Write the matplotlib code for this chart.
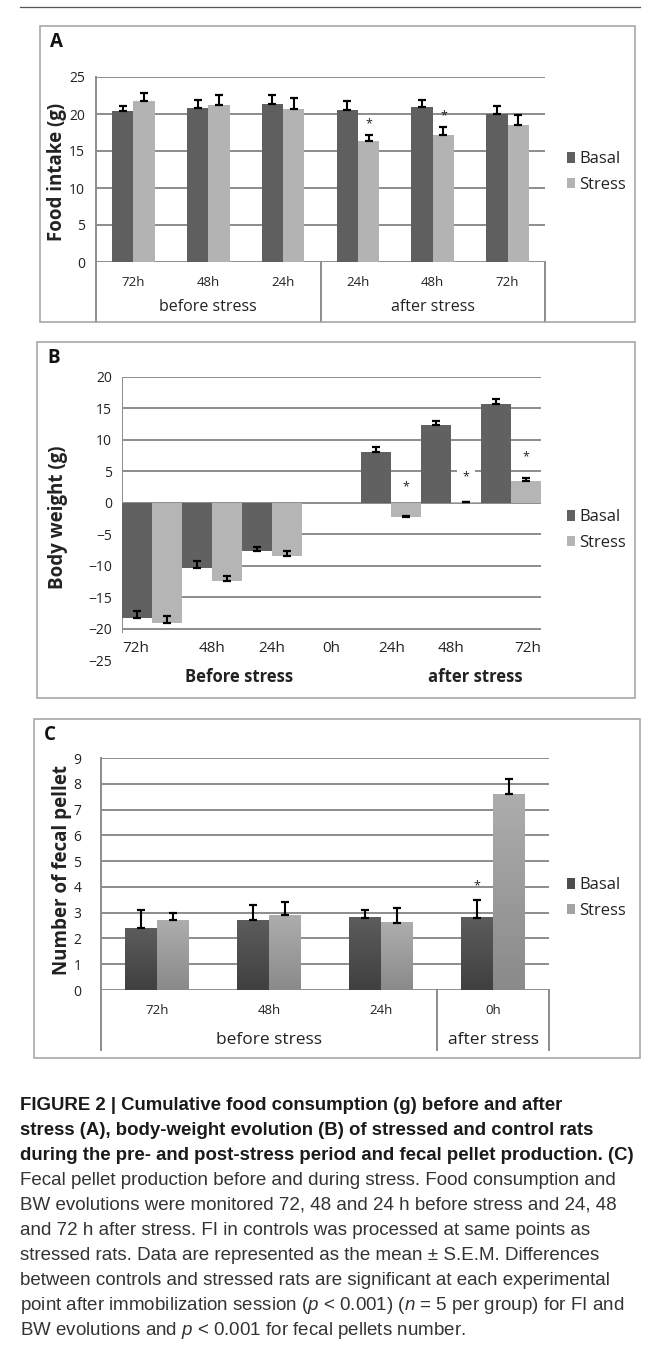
import matplotlib
matplotlib.use("Agg")
import matplotlib.pyplot as plt
import matplotlib.transforms as mtransforms
import numpy as np
from matplotlib.colors import LinearSegmentedColormap
from matplotlib.lines import Line2D
from matplotlib.patches import Patch, Rectangle

# ---- data ------------------------------------------------------------------
periods_a = ["72h", "48h", "24h", "24h", "48h", "72h"]
groups_a = ["before stress", "after stress"]
basal_a = [20.45, 20.8, 21.3, 20.5, 20.9, 20.0]
basal_a_err = [0.65, 1.1, 1.3, 1.25, 1.0, 1.1]
stress_a = [21.7, 21.15, 20.7, 16.3, 17.2, 18.45]
stress_a_err = [1.2, 1.45, 1.5, 0.8, 1.0, 1.45]
star_a = [np.nan, np.nan, np.nan, 18.7, 19.7, np.nan]

periods_b = ["72h", "48h", "24h", "0h", "24h", "48h", "72h"]
groups_b = ["Before stress", "after stress"]
basal_b = [-18.3, -10.3, -7.7, np.nan, 8.1, 12.3, 15.7]
basal_b_err = [1.1, 1.0, 0.65, np.nan, 0.7, 0.7, 0.75]
stress_b = [-19.1, -12.4, -8.5, np.nan, -2.2, 0.15, 3.4]
stress_b_err = [1.1, 0.8, 0.9, np.nan, 0.05, 0.05, 0.5]
star_b = [np.nan, np.nan, np.nan, np.nan, 2.5, 4.1, 7.3]

periods_c = ["72h", "48h", "24h", "0h"]
groups_c = ["before stress", "after stress"]
basal_c = [2.4, 2.7, 2.8, 2.8]
basal_c_err = [0.7, 0.6, 0.3, 0.7]
stress_c = [2.7, 2.9, 2.6, 7.6]
stress_c_err = [0.3, 0.5, 0.6, 0.6]
star_c = [np.nan, np.nan, np.nan, 4.05]

caption_bold = [
    "FIGURE 2 | Cumulative food consumption (g) before and after",
    "stress (A), body-weight evolution (B) of stressed and control rats",
    "during the pre- and post-stress period and fecal pellet production. (C)",
]
caption_text = [
    "Fecal pellet production before and during stress. Food consumption and",
    "BW evolutions were monitored 72, 48 and 24 h before stress and 24, 48",
    "and 72 h after stress. FI in controls was processed at same points as",
    "stressed rats. Data are represented as the mean \u00b1 S.E.M. Differences",
    "between controls and stressed rats are significant at each experimental",
    "point after immobilization session ($p$ < 0.001) ($n$ = 5 per group) for FI and",
    "BW evolutions and $p$ < 0.001 for fecal pellets number.",
]

# ---- layout (pixels) --------------------------------------------------------
W, H = 656, 1346
TXT = "#222222"
GRID = "#8c8c8c"
BOX = "#a8a8a8"
plt.rcParams["font.family"] = ["Open Sans", "DejaVu Sans"]
plt.rcParams["mathtext.fontset"] = "custom"
plt.rcParams["mathtext.it"] = "Liberation Sans:italic"
plt.rcParams["mathtext.rm"] = "Liberation Sans"

fig = plt.figure(figsize=(W / 100, H / 100), dpi=100)


def fx(x):
    return x / W


def fy(y):
    return 1 - y / H


def make_axes(left, top, right, bottom):
    ax = fig.add_axes([fx(left), fy(bottom), (right - left) / W, (bottom - top) / H])
    for s in ax.spines.values():
        s.set_visible(False)
    ax.set_xticks([])
    ax.tick_params(axis="y", length=0, labelsize=10, labelcolor=TXT)
    return ax


def panel_box(left, top, right, bottom, letter):
    fig.add_artist(Rectangle((fx(left), fy(bottom)), (right - left) / W, (bottom - top) / H,
                             transform=fig.transFigure, fill=False, ec=BOX, lw=1.2))
    fig.text(fx(left + 10), fy(top + 16), letter, fontsize=13.5, fontweight="bold",
             color="#111111", va="center", ha="left")


def blend(ax):
    return mtransforms.blended_transform_factory(ax.transData, fig.transFigure)


def vline(ax, x, y0px, y1px):
    ax.add_line(Line2D([x, x], [fy(y0px), fy(y1px)], transform=blend(ax), clip_on=False,
                       color=GRID, lw=1.4))


def xtext(ax, x, ypx, s, ha="center", **kw):
    ax.text(x, fy(ypx), s, transform=blend(ax), ha=ha, va="center", clip_on=False,
            color=TXT, **kw)


def gridlines(ax, ticks, x0, x1):
    for t in ticks:
        ax.plot([x0, x1], [t, t], color=GRID, lw=1.4, zorder=0.5, solid_capstyle="butt")


def add_legend(ax, c_basal, c_stress, ypx):
    handles = [Patch(fc=c_basal, ec="none", label="Basal"),
               Patch(fc=c_stress, ec="none", label="Stress")]
    ax.legend(handles=handles, loc="center left", bbox_to_anchor=(fx(567), fy(ypx)),
              bbox_transform=fig.transFigure, frameon=False, fontsize=12,
              handlelength=0.5, handleheight=0.55, handletextpad=0.25,
              labelspacing=0.55, borderpad=0, borderaxespad=0, labelcolor=TXT)


def errbars(ax, x, y, err):
    y = np.asarray(y, float)
    err = np.asarray(err, float)
    ax.errorbar(x, y, yerr=[np.zeros_like(err), err], fmt="none", ecolor="black",
                elinewidth=1.5, capsize=3, capthick=1.6, zorder=3)


# top rule
fig.add_artist(Line2D([fx(20), fx(640)], [fy(7), fy(7)], color="#555555", lw=0.9))

# ---- panel A ----------------------------------------------------------------
panel_box(40, 26, 635, 322, "A")
axA = make_axes(96, 77, 545, 262)
n = len(periods_a)
xa = np.arange(n)
w = 1 / 3.5
cA_b, cA_s = "#5f5f5f", "#b3b3b3"
axA.bar(xa - w / 2, basal_a, w, color=cA_b, zorder=2)
axA.bar(xa + w / 2, stress_a, w, color=cA_s, zorder=2)
errbars(axA, xa - w / 2, basal_a, basal_a_err)
errbars(axA, xa + w / 2, stress_a, stress_a_err)
for i, s in enumerate(star_a):
    if not np.isnan(s):
        axA.text(xa[i] + w / 2, s, "*", ha="center", va="center", fontsize=9, color=TXT)
axA.set_xlim(-0.5, n - 0.5)
axA.set_ylim(0, 25)
axA.set_yticks(range(0, 26, 5))
axA.tick_params(axis="y", pad=8)
gridlines(axA, range(0, 26, 5), -0.5, n - 0.5)
vline(axA, -0.5, 77, 322)
vline(axA, 2.5, 262, 322)
vline(axA, n - 0.5, 262, 322)
for i, p in enumerate(periods_a):
    xtext(axA, xa[i], 282, p, fontsize=9.5)
xtext(axA, 1, 307, groups_a[0], fontsize=11.5)
xtext(axA, 4, 307, groups_a[1], fontsize=11.5)
fig.text(fx(57), fy(172), "Food intake (g)", rotation=90, fontsize=13.5, fontweight="bold",
         ha="center", va="center", color=TXT)
add_legend(axA, cA_b, cA_s, 172)

# ---- panel B ----------------------------------------------------------------
panel_box(37, 342, 635, 698, "B")
axB = make_axes(122, 377, 541, 660)
n = len(periods_b)
xb = np.arange(n)
w = 0.5
cB_b, cB_s = "#616161", "#b5b5b5"
axB.bar(xb - w / 2, basal_b, w, color=cB_b, zorder=2)
axB.bar(xb + w / 2, stress_b, w, color=cB_s, zorder=2)
errbars(axB, xb - w / 2, basal_b, basal_b_err)
errbars(axB, xb + w / 2, stress_b, stress_b_err)
for i, s in enumerate(star_b):
    if not np.isnan(s):
        axB.text(xb[i] + w / 2, s, "*", ha="center", va="center", fontsize=9, color=TXT,
                 zorder=2.5, bbox=dict(fc="white", ec="none", pad=4))
axB.set_xlim(-0.5, n - 0.5)
axB.set_ylim(-25, 20)
axB.set_yticks(range(-25, 21, 5))
axB.tick_params(axis="y", pad=7)
gridlines(axB, range(-20, 21, 5), -0.5, n - 0.5)
axB.plot([-0.5, -0.5], [-20.6, 20], color=GRID, lw=1.4, zorder=0.6)
for i, p in enumerate(periods_b):
    if i == 0:
        xtext(axB, -0.5, 648, p, ha="left", fontsize=11)
    elif i == n - 1:
        xtext(axB, n - 0.5, 648, p, ha="right", fontsize=11)
    else:
        xtext(axB, xb[i], 648, p, fontsize=11)
xtext(axB, 1.45, 677, groups_b[0], fontsize=12, fontweight="bold")
xtext(axB, 5.4, 677, groups_b[1], fontsize=12, fontweight="bold")
fig.text(fx(58), fy(517), "Body weight (g)", rotation=90, fontsize=13.5, fontweight="bold",
         ha="center", va="center", color=TXT)
add_legend(axB, cB_b, cB_s, 530)

# ---- panel C ----------------------------------------------------------------
panel_box(34, 719, 640, 1058, "C")
axC = make_axes(101, 758, 549, 990)
n = len(periods_c)
xc = np.arange(n)
w = 1 / 3.5
cmap_b = LinearSegmentedColormap.from_list("basal", ["#404040", "#5c5c5c"])
cmap_s = LinearSegmentedColormap.from_list("stress", ["#8a8a8a", "#adadad"])
grad = np.linspace(0, 1, 64).reshape(-1, 1)
for vals, off, cm in ((basal_c, -w / 2, cmap_b), (stress_c, w / 2, cmap_s)):
    for xi, v in zip(xc + off, vals):
        axC.imshow(grad, extent=[xi - w / 2, xi + w / 2, 0, v], origin="lower",
                   aspect="auto", cmap=cm, zorder=2)
errbars(axC, xc - w / 2, basal_c, basal_c_err)
errbars(axC, xc + w / 2, stress_c, stress_c_err)
for i, s in enumerate(star_c):
    if not np.isnan(s):
        axC.text(xc[i] - w / 2, s, "*", ha="center", va="center", fontsize=9, color=TXT)
axC.set_xlim(-0.5, n - 0.5)
axC.set_ylim(0, 9)
axC.set_yticks(range(0, 10))
axC.tick_params(axis="y", pad=14)
gridlines(axC, range(0, 10), -0.5, n - 0.5)
vline(axC, -0.5, 758, 1050)
vline(axC, 2.5, 990, 1050)
vline(axC, n - 0.5, 990, 1050)
for i, p in enumerate(periods_c):
    xtext(axC, xc[i], 1010, p, fontsize=9.5)
xtext(axC, 1, 1040, groups_c[0], fontsize=12.5)
xtext(axC, 3, 1040, groups_c[1], fontsize=12.5)
fig.text(fx(62), fy(870), "Number of fecal pellet", rotation=90, fontsize=13.5,
         fontweight="bold", ha="center", va="center", color=TXT)
add_legend(axC, "#4d4d4d", "#a3a3a3", 898)

# ---- caption ----------------------------------------------------------------
y0, step = 1105, 25.1
for k, line in enumerate(caption_bold + caption_text):
    bold = k < len(caption_bold)
    fig.text(fx(20), fy(y0 + k * step), line, ha="left", va="center",
             fontsize=13.4 if bold else 13.5, family="Liberation Sans",
             fontweight="bold" if bold else "normal",
             color="#1a1a1a" if bold else "#333333")

fig.savefig("out.png", dpi=100)
